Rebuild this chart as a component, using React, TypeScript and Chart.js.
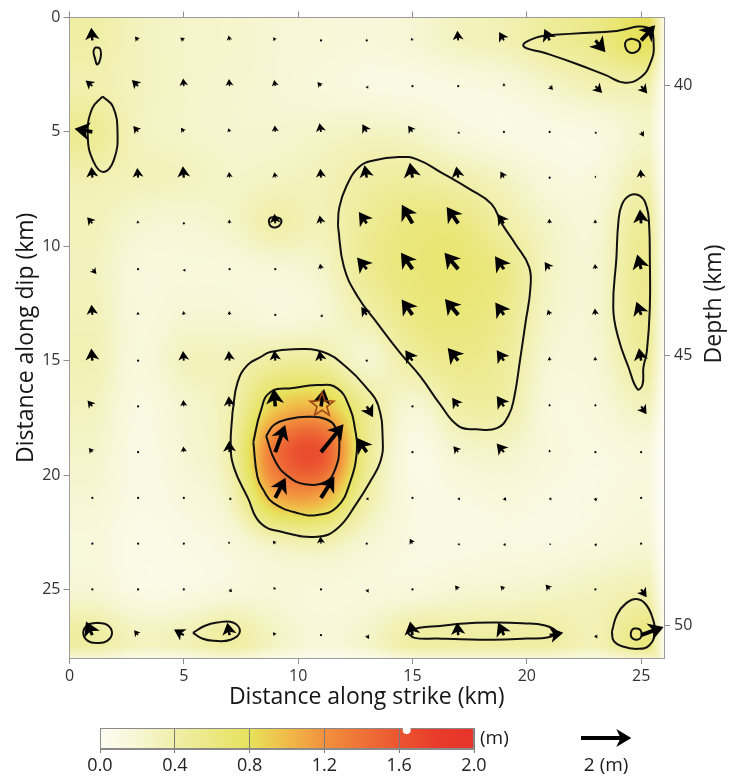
import React, { useEffect, useRef } from 'react';
import { Chart, registerables } from 'chart.js';

Chart.register(...registerables);

const FONT = "'Open Sans', 'Noto Sans', sans-serif";

// ---- grid of sub-faults (km) ----
const STRIKE_KM = [1, 3, 5, 7, 9, 11, 13, 15, 17, 19, 21, 23, 25];
const DIP_KM = [1, 3, 5, 7, 9, 11, 13, 15, 17, 19, 21, 23, 25, 27];

// slip amplitude (m), rows = DIP_KM, cols = STRIKE_KM
const SLIP_M = [
  [0.42, 0.30, 0.25, 0.24, 0.20, 0.18, 0.16, 0.20, 0.30, 0.35, 0.48, 0.58, 0.82],
  [0.38, 0.30, 0.25, 0.22, 0.20, 0.15, 0.12, 0.10, 0.12, 0.15, 0.25, 0.35, 0.38],
  [0.52, 0.30, 0.25, 0.22, 0.22, 0.25, 0.28, 0.25, 0.15, 0.10, 0.10, 0.12, 0.25],
  [0.36, 0.32, 0.30, 0.25, 0.28, 0.32, 0.42, 0.45, 0.38, 0.28, 0.15, 0.15, 0.35],
  [0.32, 0.22, 0.20, 0.25, 0.40, 0.33, 0.50, 0.62, 0.62, 0.42, 0.25, 0.20, 0.50],
  [0.30, 0.15, 0.15, 0.15, 0.18, 0.25, 0.52, 0.65, 0.68, 0.58, 0.28, 0.22, 0.54],
  [0.33, 0.15, 0.20, 0.20, 0.15, 0.20, 0.38, 0.60, 0.64, 0.55, 0.25, 0.22, 0.52],
  [0.35, 0.15, 0.30, 0.32, 0.45, 0.45, 0.22, 0.45, 0.56, 0.48, 0.20, 0.20, 0.46],
  [0.30, 0.12, 0.22, 0.36, 0.90, 1.00, 0.50, 0.20, 0.42, 0.42, 0.15, 0.15, 0.30],
  [0.25, 0.10, 0.20, 0.40, 1.40, 1.62, 0.55, 0.10, 0.22, 0.25, 0.15, 0.12, 0.15],
  [0.20, 0.10, 0.15, 0.30, 1.05, 1.08, 0.42, 0.12, 0.12, 0.15, 0.12, 0.12, 0.15],
  [0.15, 0.08, 0.10, 0.15, 0.30, 0.35, 0.20, 0.12, 0.10, 0.12, 0.12, 0.15, 0.20],
  [0.20, 0.10, 0.10, 0.15, 0.18, 0.15, 0.15, 0.15, 0.20, 0.22, 0.25, 0.30, 0.36],
  [0.45, 0.30, 0.33, 0.45, 0.28, 0.18, 0.25, 0.43, 0.43, 0.43, 0.43, 0.35, 0.62],
];

// slip vector length (m) and direction (deg, counter-clockwise from +strike, 90 = up-dip)
const ARROW_MAG_M = [
  [0.50, 0.20, 0.18, 0.20, 0.15, 0.05, 0.06, 0.12, 0.38, 0.38, 0.50, 0.62, 0.82],
  [0.35, 0.35, 0.30, 0.28, 0.25, 0.22, 0.12, 0.05, 0.05, 0.12, 0.20, 0.38, 0.38],
  [0.72, 0.30, 0.20, 0.15, 0.25, 0.35, 0.35, 0.30, 0.10, 0.04, 0.04, 0.10, 0.22],
  [0.42, 0.38, 0.45, 0.22, 0.22, 0.35, 0.50, 0.60, 0.45, 0.28, 0.05, 0.08, 0.32],
  [0.32, 0.12, 0.05, 0.15, 0.38, 0.32, 0.55, 0.85, 0.80, 0.45, 0.18, 0.15, 0.55],
  [0.25, 0.04, 0.12, 0.04, 0.05, 0.22, 0.60, 0.80, 0.85, 0.62, 0.35, 0.20, 0.60],
  [0.40, 0.12, 0.15, 0.15, 0.05, 0.12, 0.38, 0.75, 0.82, 0.60, 0.22, 0.25, 0.55],
  [0.48, 0.05, 0.38, 0.38, 0.40, 0.40, 0.05, 0.50, 0.65, 0.50, 0.15, 0.15, 0.50],
  [0.30, 0.04, 0.25, 0.40, 0.70, 0.70, 0.50, 0.05, 0.42, 0.50, 0.10, 0.10, 0.38],
  [0.22, 0.03, 0.22, 0.45, 1.15, 1.42, 0.70, 0.04, 0.30, 0.45, 0.10, 0.05, 0.05],
  [0.05, 0.04, 0.06, 0.12, 0.90, 1.00, 0.12, 0.04, 0.12, 0.15, 0.12, 0.15, 0.05],
  [0.05, 0.03, 0.05, 0.10, 0.15, 0.28, 0.05, 0.22, 0.10, 0.12, 0.08, 0.12, 0.04],
  [0.04, 0.02, 0.05, 0.15, 0.12, 0.05, 0.15, 0.05, 0.20, 0.20, 0.25, 0.05, 0.38],
  [0.60, 0.25, 0.45, 0.50, 0.15, 0.05, 0.18, 0.55, 0.50, 0.55, 0.55, 0.15, 0.95],
];
const ARROW_RAKE_DEG = [
  [95, 130, 140, 100, 125, 90, 90, 120, 95, 120, 115, -50, 47],
  [140, 135, 95, 95, 100, 130, -60, 90, 90, 90, -50, -45, -50],
  [170, 130, 125, 110, 95, 100, 120, 125, -60, 90, 90, -70, -60],
  [95, 95, 95, 95, 100, 95, 100, 100, 100, 120, 90, 90, 95],
  [130, 100, 90, 95, 95, 100, 125, 120, 125, 125, 95, 95, 95],
  [-50, 90, -60, 90, 90, 100, 130, 125, 130, 125, 125, 95, 105],
  [95, 95, 95, 95, 90, -55, 125, 125, 130, 125, 110, 95, 110],
  [95, 90, 95, 95, 95, 100, 90, 125, 130, 125, 95, 95, 100],
  [130, 90, 95, 95, 95, 80, -60, 90, 125, 125, 95, 95, -55],
  [130, 90, 95, 92, 70, 51, 125, 90, 130, 130, 95, 90, 90],
  [90, 90, 90, -50, 63, 58, -50, 90, -50, -50, -50, -80, 90],
  [90, 90, 90, 120, 130, 95, 90, 120, -45, -50, -45, -75, 90],
  [90, 90, 90, -50, 130, 90, -60, 90, 130, 135, 130, 90, -55],
  [115, 130, 150, 100, 130, 90, -60, 100, 95, 115, 10, -60, 20],
];

// ---- axes ----
const STRIKE_RANGE = [0, 26];
const DIP_RANGE = [0, 28];
const DEPTH_RANGE = [38.75, 50.61];
const STRIKE_TICKS = [0, 5, 10, 15, 20, 25];
const DIP_TICKS = [0, 5, 10, 15, 20, 25];
const DEPTH_TICKS = [40, 45, 50];
const SLIP_TICKS = [0, 0.4, 0.8, 1.2, 1.6, 2.0];
const SLIP_MAX_M = 1.64;
const ARROW_REF_M = 2;
const KM_PER_M = 1.1;
// extent where the slip model fades out (km)
const FADE_STRIKE_KM = [25.35, 26];
const FADE_DIP_KM = [27.45, 28];

const HYPOCENTER = [11.04, 16.94];

// ---- slip contours (km along strike, km along dip) ----
const CONTOUR_TL_SMALL = [[1.12, 1.3], [1.32, 1.35], [1.38, 1.6], [1.3, 1.95], [1.2, 2.05], [1.12, 1.8], [1.05, 1.5]];
const CONTOUR_LEFT_OVAL = [[1.45, 3.45], [1.9, 3.9], [2.1, 5.0], [1.95, 6.2], [1.5, 6.75], [1.05, 6.3], [0.8, 5.2], [0.98, 4.0]];
const CONTOUR_TOP_RIGHT = [[21.2, 0.75], [22.5, 0.68], [23.8, 0.6], [25.3, 0.45], [25.55, 1.2], [25.4, 2.0], [25.0, 2.6], [24.3, 2.85], [23.4, 2.5], [22.1, 2.0], [20.8, 1.55], [19.85, 1.25], [20.4, 0.88]];
const CONTOUR_TOP_RIGHT_IN = [[24.6, 0.92], [24.9, 1.05], [24.95, 1.3], [24.75, 1.52], [24.45, 1.5], [24.3, 1.25], [24.35, 1.02]];
const CONTOUR_CENTRAL = [[11.74, 9.1], [11.8, 8.3], [12.1, 7.4], [12.65, 6.55], [13.3, 6.25], [14.4, 6.1], [15.2, 6.2], [16.3, 6.8], [17.5, 7.5], [18.45, 8.15], [18.9, 9.0], [19.5, 9.9], [20.1, 10.9], [20.15, 11.9], [19.95, 13.3], [19.7, 15.0], [19.45, 16.6], [19.2, 17.4], [18.7, 17.95], [17.8, 18.0], [17.0, 17.85], [16.2, 16.9], [15.35, 15.7], [14.45, 14.65], [13.45, 13.35], [12.6, 12.2], [12.0, 10.9]];
const CONTOUR_RIGHT = [[23.92, 10.5], [24.0, 9.0], [24.15, 8.2], [24.5, 7.78], [24.95, 7.8], [25.25, 8.3], [25.35, 9.1], [25.38, 10.5], [25.38, 12.7], [25.25, 14.6], [25.1, 15.3], [25.06, 16.05], [24.84, 16.25], [24.45, 15.3], [24.0, 14.0], [23.78, 12.7]];
const CONTOUR_SMALL_9 = [[8.97, 8.72], [9.22, 8.8], [9.25, 9.0], [9.05, 9.17], [8.8, 9.12], [8.72, 8.92], [8.78, 8.76]];
const CONTOUR_HYPO_OUT = [[7.13, 17.25], [7.35, 15.95], [7.78, 15.2], [8.35, 14.85], [8.78, 14.62], [9.78, 14.5], [11.09, 14.62], [12.13, 15.3], [13.0, 16.2], [13.5, 16.95], [13.7, 18.5], [13.6, 19.4], [13.2, 20.2], [12.55, 21.25], [11.7, 22.35], [10.83, 22.7], [9.35, 22.5], [8.35, 22.1], [7.8, 21.0], [7.2, 19.7], [7.05, 18.7]];
const CONTOUR_HYPO_MID = [[8.04, 18.56], [8.35, 17.25], [8.78, 16.38], [9.78, 16.2], [10.83, 16.07], [11.7, 16.2], [12.26, 17.07], [12.48, 17.95], [12.57, 18.91], [12.26, 20.35], [11.7, 21.4], [10.83, 21.75], [9.96, 21.66], [8.91, 21.22], [8.48, 20.66], [8.22, 20.09]];
const CONTOUR_HYPO_IN = [[8.6, 18.3], [8.95, 17.8], [9.6, 17.55], [10.4, 17.45], [11.2, 17.55], [11.65, 17.95], [11.8, 18.8], [11.6, 19.8], [11.2, 20.3], [10.3, 20.4], [9.55, 20.05], [9.0, 19.4]];
const CONTOUR_B1 = [[1.22, 26.46], [1.65, 26.55], [1.86, 26.9], [1.65, 27.25], [1.22, 27.34], [0.8, 27.25], [0.6, 26.9], [0.8, 26.55]];
const CONTOUR_B7 = [[5.4, 26.9], [5.9, 26.6], [6.45, 26.45], [7.15, 26.45], [7.45, 26.85], [7.05, 27.2], [6.3, 27.25], [5.8, 27.15]];
const CONTOUR_B15 = [[14.76, 26.88], [15.3, 26.68], [16.2, 26.6], [17.1, 26.5], [18.5, 26.45], [19.8, 26.48], [20.8, 26.58], [21.3, 26.88], [20.9, 27.1], [20.0, 27.15], [18.5, 27.2], [17.1, 27.18], [16.1, 27.15], [15.1, 27.12]];
const CONTOUR_B25 = [[23.72, 26.85], [23.95, 26.1], [24.35, 25.6], [24.8, 25.42], [25.2, 25.65], [25.5, 26.25], [25.6, 26.9], [25.35, 27.45], [24.85, 27.6], [24.2, 27.5], [23.8, 27.25]];
const CONTOUR_B25_IN = [[24.78, 26.7], [24.97, 26.78], [25.02, 26.97], [24.95, 27.15], [24.76, 27.2], [24.58, 27.1], [24.55, 26.9], [24.62, 26.75]];

const CONTOURS = [
  CONTOUR_TL_SMALL, CONTOUR_LEFT_OVAL, CONTOUR_TOP_RIGHT, CONTOUR_TOP_RIGHT_IN, CONTOUR_CENTRAL,
  CONTOUR_RIGHT, CONTOUR_SMALL_9, CONTOUR_HYPO_OUT, CONTOUR_HYPO_MID, CONTOUR_HYPO_IN,
  CONTOUR_B1, CONTOUR_B7, CONTOUR_B15, CONTOUR_B25, CONTOUR_B25_IN,
];

// ---- colour map ----
const CMAP_VALUES = [0, 0.2, 0.4, 0.6, 0.8, 1.0, 1.2, 1.4, 1.6, 1.8, 2.0];
const CMAP_COLORS = ['#fdfdf3', '#f7f6d4', '#f0efa9', '#ebe883', '#e7e25c', '#f0bb48', '#f2913e', '#ee7236', '#eb5530', '#e83c2b', '#e7342a'];

function hexRgb(h: string): number[] {
  return [parseInt(h.slice(1, 3), 16), parseInt(h.slice(3, 5), 16), parseInt(h.slice(5, 7), 16)];
}
const CMAP_RGB = CMAP_COLORS.map(hexRgb);
function slipRgb(v: number): number[] {
  if (v <= CMAP_VALUES[0]) return CMAP_RGB[0];
  for (let i = 1; i < CMAP_VALUES.length; i++) {
    if (v <= CMAP_VALUES[i]) {
      const t = (v - CMAP_VALUES[i - 1]) / (CMAP_VALUES[i] - CMAP_VALUES[i - 1]);
      const a = CMAP_RGB[i - 1];
      const b = CMAP_RGB[i];
      return [a[0] + (b[0] - a[0]) * t, a[1] + (b[1] - a[1]) * t, a[2] + (b[2] - a[2]) * t];
    }
  }
  return CMAP_RGB[CMAP_RGB.length - 1];
}

// smooth (Catmull-Rom) rendering of the gridded slip
function cubic(p0: number, p1: number, p2: number, p3: number, t: number) {
  return p1 + 0.5 * t * (p2 - p0 + t * (2 * p0 - 5 * p1 + 4 * p2 - p3 + t * (3 * (p1 - p2) + p3 - p0)));
}
function slipAt(xk: number, yk: number) {
  const nx = STRIKE_KM.length, ny = DIP_KM.length;
  let gx = (xk - STRIKE_KM[0]) / (STRIKE_KM[1] - STRIKE_KM[0]);
  let gy = (yk - DIP_KM[0]) / (DIP_KM[1] - DIP_KM[0]);
  gx = Math.max(0, Math.min(nx - 1, gx));
  gy = Math.max(0, Math.min(ny - 1, gy));
  const ix = Math.min(nx - 2, Math.floor(gx)), iy = Math.min(ny - 2, Math.floor(gy));
  const tx = gx - ix, ty = gy - iy;
  const at = (r: number, c: number) => SLIP_M[Math.max(0, Math.min(ny - 1, r))][Math.max(0, Math.min(nx - 1, c))];
  const col: number[] = [];
  for (let j = -1; j <= 2; j++) {
    col.push(cubic(at(iy + j, ix - 1), at(iy + j, ix), at(iy + j, ix + 1), at(iy + j, ix + 2), tx));
  }
  return Math.max(0, cubic(col[0], col[1], col[2], col[3], ty));
}

function drawArrow(ctx: CanvasRenderingContext2D, x0: number, y0: number, x1: number, y1: number) {
  const dx = x1 - x0;
  const dy = y1 - y0;
  const L = Math.hypot(dx, dy);
  ctx.fillStyle = '#000';
  if (L < 1.6) {
    ctx.beginPath();
    ctx.arc(x0, y0, 1.1, 0, Math.PI * 2);
    ctx.fill();
    return;
  }
  const ux = dx / L, uy = dy / L, nx = -uy, ny = ux;
  const hl = Math.min(L * 0.95, 15);
  const hw = hl * 1.2;
  const sw = Math.min(4, Math.max(1, L * 0.2));
  const bx = x1 - ux * hl * 0.78, by = y1 - uy * hl * 0.78;
  const hx = x1 - ux * hl, hy = y1 - uy * hl;
  ctx.beginPath();
  ctx.moveTo(x0 + nx * sw / 2, y0 + ny * sw / 2);
  ctx.lineTo(bx + nx * sw / 2, by + ny * sw / 2);
  ctx.lineTo(hx + nx * hw / 2, hy + ny * hw / 2);
  ctx.lineTo(x1, y1);
  ctx.lineTo(hx - nx * hw / 2, hy - ny * hw / 2);
  ctx.lineTo(bx - nx * sw / 2, by - ny * sw / 2);
  ctx.lineTo(x0 - nx * sw / 2, y0 - ny * sw / 2);
  ctx.closePath();
  ctx.fill();
}

function makeStar(): HTMLCanvasElement {
  const c = document.createElement('canvas');
  c.width = 30;
  c.height = 30;
  const g = c.getContext('2d')!;
  g.beginPath();
  for (let i = 0; i < 10; i++) {
    const r = i % 2 === 0 ? 12.5 : 5.2;
    const a = -Math.PI / 2 + (i * Math.PI) / 5;
    const px = 15 + r * Math.cos(a);
    const py = 15 + r * Math.sin(a);
    if (i === 0) g.moveTo(px, py);
    else g.lineTo(px, py);
  }
  g.closePath();
  g.strokeStyle = '#9c4414';
  g.lineWidth = 1.6;
  g.stroke();
  return c;
}

const heatmapPlugin = {
  id: 'slipHeatmap',
  beforeDraw(chart: any) {
    const { ctx, chartArea, scales } = chart;
    const xs = scales.x, ys = scales.y;
    const left = Math.floor(chartArea.left), top = Math.floor(chartArea.top);
    const w = Math.ceil(chartArea.right) - left, h = Math.ceil(chartArea.bottom) - top;
    const off = document.createElement('canvas');
    off.width = w;
    off.height = h;
    const octx = off.getContext('2d')!;
    const img = octx.createImageData(w, h);
    const xv: number[] = [];
    for (let i = 0; i < w; i++) xv.push(xs.getValueForPixel(left + i + 0.5));
    for (let j = 0; j < h; j++) {
      const yk = ys.getValueForPixel(top + j + 0.5);
      const fy = Math.max(0, Math.min(1, (yk - FADE_DIP_KM[0]) / (FADE_DIP_KM[1] - FADE_DIP_KM[0])));
      for (let i = 0; i < w; i++) {
        const xk = xv[i];
        const fx = Math.max(0, Math.min(1, (xk - FADE_STRIKE_KM[0]) / (FADE_STRIKE_KM[1] - FADE_STRIKE_KM[0])));
        const fade = Math.max(fx * 0.85, fy * 0.55);
        const rgb = slipRgb(slipAt(xk, yk));
        const k = (j * w + i) * 4;
        img.data[k] = rgb[0] + (255 - rgb[0]) * fade;
        img.data[k + 1] = rgb[1] + (255 - rgb[1]) * fade;
        img.data[k + 2] = rgb[2] + (255 - rgb[2]) * fade;
        img.data[k + 3] = 255;
      }
    }
    octx.putImageData(img, 0, 0);
    ctx.save();
    ctx.beginPath();
    ctx.rect(chartArea.left, chartArea.top, chartArea.right - chartArea.left, chartArea.bottom - chartArea.top);
    ctx.clip();
    ctx.drawImage(off, left, top);
    ctx.restore();
  },
};

function drawSlipArrows(chart: any) {
  const { ctx, scales } = chart;
  const xs = scales.x, ys = scales.y;
  ctx.save();
  for (let r = 0; r < DIP_KM.length; r++) {
    for (let c = 0; c < STRIKE_KM.length; c++) {
      const m = ARROW_MAG_M[r][c] * KM_PER_M;
      const a = (ARROW_RAKE_DEG[r][c] * Math.PI) / 180;
      const xk = STRIKE_KM[c], yk = DIP_KM[r];
      drawArrow(
        ctx,
        xs.getPixelForValue(xk),
        ys.getPixelForValue(yk),
        xs.getPixelForValue(xk + m * Math.cos(a)),
        ys.getPixelForValue(yk - m * Math.sin(a)),
      );
    }
  }
  ctx.restore();
}

const arrowsPlugin = {
  id: 'slipArrows',
  afterDatasetDraw(chart: any, args: any) {
    if (args.index === 1) drawSlipArrows(chart);
  },
  afterDraw(chart: any) {
    const { ctx, scales } = chart;
    const xs = scales.x;
    const len = xs.getPixelForValue(ARROW_REF_M * KM_PER_M) - xs.getPixelForValue(0);
    ctx.save();
    drawArrow(ctx, 581, 738, 581 + len, 738);
    ctx.fillStyle = '#1a1a1a';
    ctx.font = `19px ${FONT}`;
    ctx.textAlign = 'center';
    ctx.textBaseline = 'middle';
    ctx.fillText(`${ARROW_REF_M} (m)`, 581 + len / 2, 766);
    ctx.translate(714, 304);
    ctx.rotate(-Math.PI / 2);
    ctx.font = `23px ${FONT}`;
    ctx.fillText('Depth (km)', 0, 0);
    ctx.restore();
  },
};

const colorbarPlugin = {
  id: 'colorbar',
  beforeDraw(chart: any) {
    const { ctx, chartArea } = chart;
    const g = ctx.createLinearGradient(chartArea.left, 0, chartArea.right, 0);
    const span = CMAP_VALUES[CMAP_VALUES.length - 1] - CMAP_VALUES[0];
    CMAP_VALUES.forEach((v, i) => g.addColorStop((v - CMAP_VALUES[0]) / span, CMAP_COLORS[i]));
    ctx.save();
    ctx.fillStyle = g;
    ctx.fillRect(chartArea.left, chartArea.top, chartArea.right - chartArea.left, chartArea.bottom - chartArea.top);
    ctx.restore();
  },
  afterDraw(chart: any) {
    const { ctx, chartArea, scales } = chart;
    ctx.save();
    ctx.strokeStyle = '#8a8a8a';
    ctx.lineWidth = 1;
    ctx.strokeRect(chartArea.left + 0.5, chartArea.top + 0.5, chartArea.right - chartArea.left - 1, chartArea.bottom - chartArea.top - 1);
    ctx.fillStyle = '#ffffff';
    ctx.beginPath();
    ctx.arc(scales.x.getPixelForValue(SLIP_MAX_M), chartArea.top + 2, 4, 0, Math.PI * 2);
    ctx.fill();
    ctx.fillStyle = '#1a1a1a';
    ctx.font = `19px ${FONT}`;
    ctx.textAlign = 'left';
    ctx.textBaseline = 'middle';
    ctx.fillText('(m)', chartArea.right + 6, chartArea.top + 11);
    ctx.restore();
  },
};

export default function App() {
  const mainRef = useRef<HTMLCanvasElement>(null);
  const barRef = useRef<HTMLCanvasElement>(null);

  useEffect(() => {
    const star = makeStar();
    const tickFont = { family: FONT, size: 16 };
    const titleFont = { family: FONT, size: 23 };
    const axisGrid = { drawOnChartArea: false, drawTicks: true, tickLength: 6, tickColor: '#8c8c8c', color: '#8c8c8c' };
    const axisBorder = { display: true, color: '#9c9c9c', width: 1 };

    const datasets: any[] = [
      {
        data: [{ x: HYPOCENTER[0], y: HYPOCENTER[1] }],
        pointStyle: star,
        pointRadius: 12,
        showLine: false,
      },
      ...CONTOURS.map((pts) => ({
        data: [...pts, pts[0]].map(([x, y]) => ({ x, y })),
        showLine: true,
        borderColor: '#111111',
        borderWidth: 2,
        pointRadius: 0,
        tension: 0.45,
        fill: false,
      })),
    ];

    const main = new Chart(mainRef.current!, {
      type: 'scatter',
      data: { datasets },
      options: {
        responsive: false,
        animation: false,
        events: [],
        layout: { padding: { left: 0, top: 7, right: 0, bottom: 67 } },
        plugins: { legend: { display: false }, tooltip: { enabled: false } },
        scales: {
          x: {
            type: 'linear',
            position: 'bottom',
            min: STRIKE_RANGE[0],
            max: STRIKE_RANGE[1],
            afterBuildTicks: (s: any) => { s.ticks = STRIKE_TICKS.map((v) => ({ value: v })); },
            afterFit: (s: any) => { s.height = 53; },
            grid: axisGrid,
            border: axisBorder,
            ticks: { color: '#333', font: tickFont, padding: 3, maxRotation: 0 },
            title: { display: true, text: 'Distance along strike (km)', color: '#151515', font: titleFont, padding: { top: 0, bottom: 0 } },
          },
          xTop: {
            type: 'linear',
            position: 'top',
            min: STRIKE_RANGE[0],
            max: STRIKE_RANGE[1],
            afterBuildTicks: (s: any) => { s.ticks = STRIKE_TICKS.map((v) => ({ value: v })); },
            afterFit: (s: any) => { s.height = 10.5; },
            grid: axisGrid,
            border: axisBorder,
            ticks: { display: false },
          },
          y: {
            type: 'linear',
            position: 'left',
            reverse: true,
            min: DIP_RANGE[0],
            max: DIP_RANGE[1],
            afterBuildTicks: (s: any) => { s.ticks = DIP_TICKS.map((v) => ({ value: v })); },
            afterFit: (s: any) => { s.width = 69.5; },
            grid: axisGrid,
            border: axisBorder,
            ticks: { color: '#333', font: tickFont, padding: 3 },
            title: { display: true, text: 'Distance along dip (km)', color: '#151515', font: titleFont, padding: { top: 13, bottom: 0 } },
          },
          yDepth: {
            type: 'linear',
            position: 'right',
            reverse: true,
            min: DEPTH_RANGE[0],
            max: DEPTH_RANGE[1],
            afterBuildTicks: (s: any) => { s.ticks = DEPTH_TICKS.map((v) => ({ value: v })); },
            afterFit: (s: any) => { s.width = 68; },
            grid: axisGrid,
            border: axisBorder,
            ticks: { color: '#333', font: tickFont, padding: 4 },
          },
        },
      },
      plugins: [heatmapPlugin, arrowsPlugin],
    } as any);

    const bar = new Chart(barRef.current!, {
      type: 'scatter',
      data: { datasets: [] },
      options: {
        responsive: false,
        animation: false,
        events: [],
        layout: { padding: { left: 100, right: 86, top: 18, bottom: 0 } },
        plugins: { legend: { display: false }, tooltip: { enabled: false } },
        scales: {
          x: {
            type: 'linear',
            position: 'bottom',
            min: SLIP_TICKS[0],
            max: SLIP_TICKS[SLIP_TICKS.length - 1],
            afterBuildTicks: (s: any) => { s.ticks = SLIP_TICKS.map((v) => ({ value: v })); },
            afterFit: (s: any) => { s.height = 29; },
            grid: { drawOnChartArea: true, drawTicks: true, tickLength: 4, color: '#7a7a7a', tickColor: '#7a7a7a', lineWidth: 1 },
            border: { display: true, color: '#8a8a8a' },
            ticks: { color: '#222', font: { family: FONT, size: 18 }, padding: 2, maxRotation: 0, callback: (v: any) => Number(v).toFixed(1) },
          },
          y: { display: false, min: 0, max: 1 },
        },
      },
      plugins: [colorbarPlugin],
    } as any);

    return () => {
      main.destroy();
      bar.destroy();
    };
  }, []);

  return (
    <div style={{ position: 'fixed', left: 0, top: 0, width: 732, height: 778, background: '#ffffff' }}>
      <canvas ref={mainRef} width={732} height={778} style={{ position: 'absolute', left: 0, top: 0, width: 732, height: 778 }} />
      <canvas ref={barRef} width={560} height={68} style={{ position: 'absolute', left: 0, top: 710, width: 560, height: 68 }} />
    </div>
  );
}
